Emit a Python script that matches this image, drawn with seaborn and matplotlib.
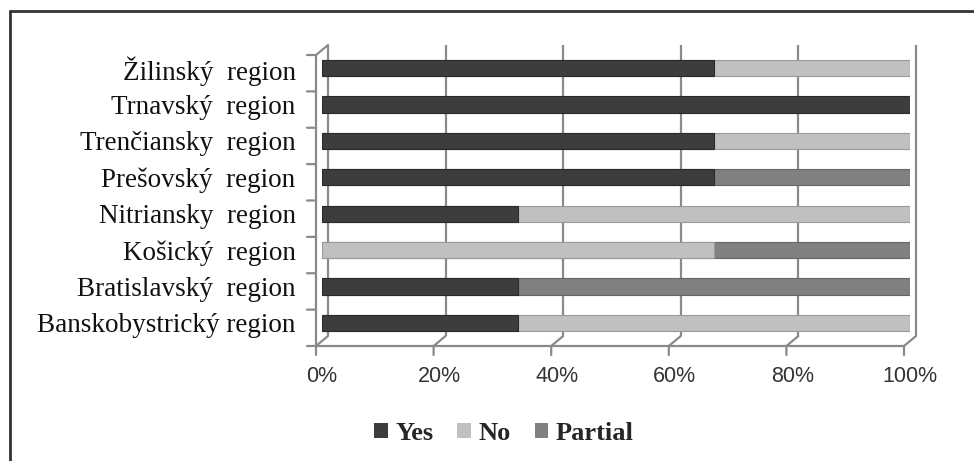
import matplotlib
matplotlib.use("Agg")
import matplotlib.pyplot as plt
import matplotlib.transforms as mtransforms
from matplotlib.patches import Patch
from matplotlib.lines import Line2D
import seaborn as sns
import pandas as pd
import numpy as np

# ---- data ----
regions = ["Žilinský  region", "Trnavský  region", "Trenčiansky  region",
           "Prešovský  region", "Nitriansky  region", "Košický  region",
           "Bratislavský  region", "Banskobystrický region"]
yes = [66.7, 100.0, 66.7, 66.7, 33.3, 0.0, 33.3, 33.3]
no = [33.3, 0.0, 33.3, 0.0, 66.7, 66.7, 0.0, 66.7]
partial = [0.0, 0.0, 0.0, 33.3, 0.0, 33.3, 66.7, 0.0]
series_names = ["Yes", "No", "Partial"]
x_ticks = [0, 20, 40, 60, 80, 100]
x_tick_labels = ["0%", "20%", "40%", "60%", "80%", "100%"]

colors = {"Yes": "#3d3d3d", "No": "#c0c0c0", "Partial": "#808080"}
edges = {"Yes": "#2a2a2a", "No": "#9a9a9a", "Partial": "#666666"}
grid_color = "#8a8a8a"

sns.set_theme(style="white")
plt.rcParams["font.family"] = ["Liberation Serif", "DejaVu Serif"]

W, H = 974, 461
fig = plt.figure(figsize=(W / 100, H / 100), dpi=100)
ax = fig.add_axes([322 / W, 1 - 341 / H, 588 / W, 291 / H])

df = pd.DataFrame({"region": regions, "Yes": yes, "No": no, "Partial": partial})
df["c_Yes"] = df["Yes"]
df["c_No"] = df["Yes"] + df["No"]
df["c_Partial"] = df["c_No"] + df["Partial"]

# stacked bars drawn as cumulative layers (back to front)
for name in ["Partial", "No", "Yes"]:
    col = "c_" + name
    sub = df[df[name] > 0]
    sns.barplot(data=sub, y="region", x=col, order=regions, orient="h",
                color=colors[name], saturation=1, width=0.45,
                edgecolor=edges[name], linewidth=0.8, ax=ax, zorder=3)

ax.set_xlim(0, 100)
ax.set_ylim(7.5, -0.5)
ax.set_xlabel("")
ax.set_ylabel("")
for s in ax.spines.values():
    s.set_visible(False)
ax.grid(False)


def shifted(dx, dy):
    return ax.transData + mtransforms.ScaledTranslation(dx / fig.dpi, dy / fig.dpi,
                                                       fig.dpi_scale_trans)


back = shifted(6, 5)
front = shifted(-6, -5)
lw = 1.6

# back wall gridlines
for v in x_ticks:
    ax.plot([v, v], [7.5, -0.5], transform=back, color=grid_color, lw=lw,
            clip_on=False, zorder=1, solid_capstyle="butt")

# front frame: left wall and floor edge
ax.plot([0, 0], [7.5, -0.5], transform=front, color=grid_color, lw=lw,
        clip_on=False, zorder=1)
ax.plot([0, 100], [7.5, 7.5], transform=front, color=grid_color, lw=lw,
        clip_on=False, zorder=1)


def seg(xy, xycoords, xytext, textcoords):
    ax.annotate("", xy=xy, xycoords=xycoords, xytext=xytext, textcoords=textcoords,
                arrowprops=dict(arrowstyle="-", color=grid_color, lw=lw,
                                shrinkA=0, shrinkB=0), annotation_clip=False)


# left wall ticks at category boundaries
for b in np.arange(-0.5, len(regions), 1.0):
    seg((0, b), front, (-9, 0), "offset pixels")
# floor ticks
for v in x_ticks:
    seg((v, 7.5), front, (0, -9), "offset pixels")
# depth diagonals
for v in x_ticks:
    seg((v, 7.5), back, (v, 7.5), front)
seg((0, -0.5), back, (0, -0.5), front)

ax.set_xticks(x_ticks, x_tick_labels)
ax.tick_params(axis="x", length=0, pad=18, labelsize=15.5, labelcolor="#333333")
for t in ax.get_xticklabels():
    t.set_fontfamily(["Liberation Sans", "DejaVu Sans"])
ax.tick_params(axis="y", length=0, pad=19, labelsize=19.5, labelcolor="#111111")

# legend
handles = [Patch(facecolor=colors[n], edgecolor="none", label=n) for n in series_names]
fig.legend(handles=handles, loc="center", bbox_to_anchor=(504 / W, 1 - 433 / H),
           ncol=3, frameon=False,
           prop={"family": "Liberation Serif", "weight": "bold", "size": 19},
           handlelength=0.5, handleheight=0.5, handletextpad=0.3,
           columnspacing=0.9)

# outer frame (left and top only visible)
fig.add_artist(Line2D([10 / W, 10 / W], [0, 1 - 11 / H], transform=fig.transFigure,
                      color="#333333", lw=2))
fig.add_artist(Line2D([10 / W, 1], [1 - 11 / H, 1 - 11 / H], transform=fig.transFigure,
                      color="#333333", lw=2))

fig.savefig("out.png", dpi=100)
